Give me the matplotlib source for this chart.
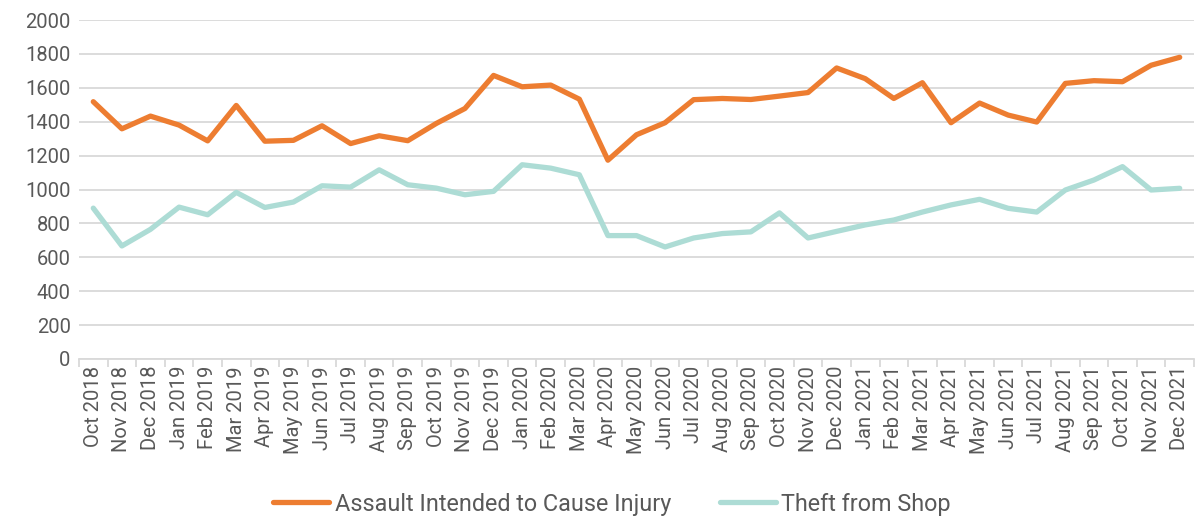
import numpy as np
import matplotlib.pyplot as plt

months = ['Oct 2018', 'Nov 2018', 'Dec 2018', 'Jan 2019', 'Feb 2019', 'Mar 2019',
          'Apr 2019', 'May 2019', 'Jun 2019', 'Jul 2019', 'Aug 2019', 'Sep 2019',
          'Oct 2019', 'Nov 2019', 'Dec 2019', 'Jan 2020', 'Feb 2020', 'Mar 2020',
          'Apr 2020', 'May 2020', 'Jun 2020', 'Jul 2020', 'Aug 2020', 'Sep 2020',
          'Oct 2020', 'Nov 2020', 'Dec 2020', 'Jan 2021', 'Feb 2021', 'Mar 2021',
          'Apr 2021', 'May 2021', 'Jun 2021', 'Jul 2021', 'Aug 2021', 'Sep 2021',
          'Oct 2021', 'Nov 2021', 'Dec 2021']

assault = [1518, 1358, 1433, 1380, 1287, 1496, 1285, 1290, 1376, 1271, 1317, 1288,
           1390, 1478, 1673, 1606, 1616, 1533, 1173, 1323, 1394, 1530, 1537, 1531,
           1551, 1572, 1717, 1654, 1537, 1630, 1394, 1510, 1439, 1398, 1626, 1642,
           1636, 1733, 1780]

theft = [890, 667, 765, 896, 851, 983, 894, 926, 1022, 1014, 1116, 1028,
         1008, 969, 989, 1146, 1126, 1087, 728, 728, 661, 714, 740, 750,
         862, 714, 753, 791, 820, 867, 909, 942, 889, 867, 997, 1056,
         1135, 997, 1007]

plt.rcParams['font.family'] = ['Roboto', 'DejaVu Sans']
txt = '#595959'

fig = plt.figure(figsize=(11.95, 5.21), dpi=100)
ax = fig.add_axes([79/1195, 162/521, 1115/1195, 339/521])

x = np.arange(len(months))
ax.plot(x, assault, color='#ED7D31', lw=3.8, solid_capstyle='round',
        label='Assault Intended to Cause Injury')
ax.plot(x, theft, color='#ADDCD5', lw=3.8, solid_capstyle='round',
        label='Theft from Shop')

ax.set_xlim(-0.5, len(months) - 0.5)
ax.set_ylim(0, 2000)
ax.set_yticks(np.arange(0, 2001, 200))
ax.yaxis.grid(True, color='#D9D9D9', lw=1.3)
ax.set_axisbelow(True)

ax.set_xticks(x)
ax.set_xticklabels(months, rotation=90)
ax.set_xticks(np.arange(-0.5, len(months), 1), minor=True)
ax.tick_params(axis='x', which='major', length=0, pad=5, labelsize=14.5, labelcolor=txt)
ax.tick_params(axis='x', which='minor', length=6, color='#D9D9D9', width=1.3)
ax.tick_params(axis='y', length=0, pad=6, labelsize=14.5, labelcolor=txt)

for s in ['top', 'right', 'left']:
    ax.spines[s].set_visible(False)
ax.spines['bottom'].set_color('#D9D9D9')
ax.spines['bottom'].set_linewidth(1.3)

fig.legend(loc='center', bbox_to_anchor=(612/1195, 1 - 504/521), ncol=2,
           frameon=False, fontsize=16.8, labelcolor=txt, handlelength=2.4,
           handletextpad=0.22, columnspacing=2.1)

fig.savefig('out.png', dpi=100)
